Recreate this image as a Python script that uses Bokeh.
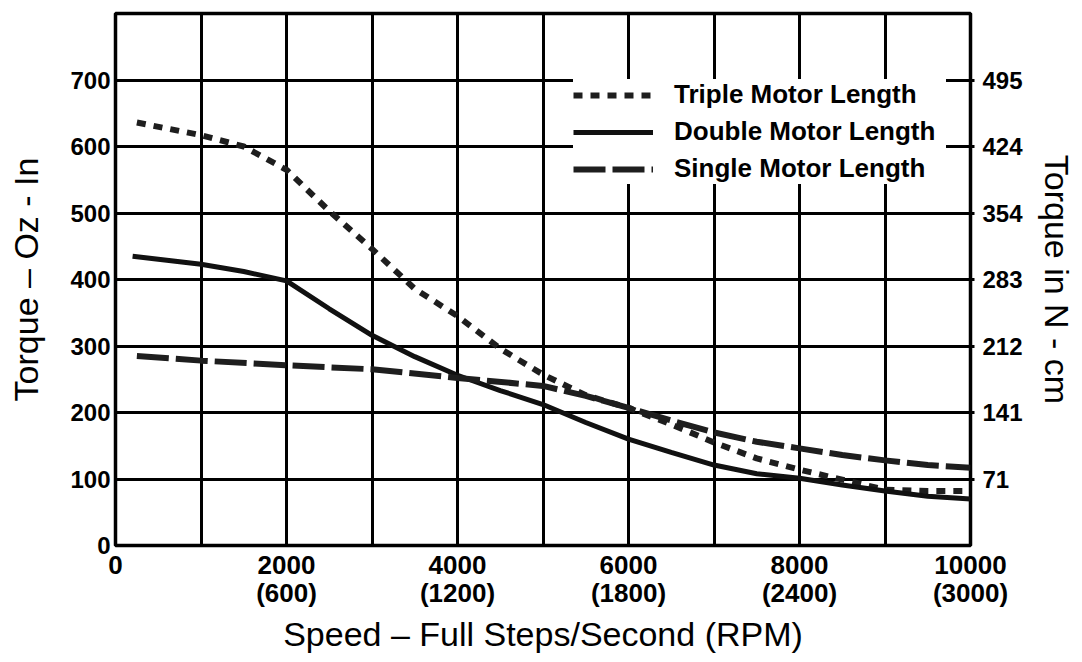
from bokeh.plotting import figure
from bokeh.models import Range1d, LinearAxis, FixedTicker, Legend, LegendItem
from bokeh.embed import file_html
from bokeh.resources import INLINE

# ---- data ----
speed_grid = list(range(0, 10001, 1000))
speed_labelled = [0, 2000, 4000, 6000, 8000, 10000]
rpm_labels = [None, 600, 1200, 1800, 2400, 3000]
torque_grid = list(range(0, 801, 100))
torque_labelled = [0, 100, 200, 300, 400, 500, 600, 700]
ncm_ticks = [100, 200, 300, 400, 500, 600, 700]
ncm_labels = ["71", "141", "212", "283", "354", "424", "495"]

triple_x = [250, 1000, 1500, 2000, 2500, 3000, 3500, 4000, 4500, 5000, 5500, 6000, 6500, 7000, 7500, 8000, 8500, 9000, 9500, 10000]
triple_y = [636, 617, 600, 565, 503, 446, 386, 345, 296, 257, 226, 207, 182, 155, 131, 114, 99, 84, 82, 82]

double_x = [200, 1000, 1500, 2000, 2500, 3000, 3500, 4000, 4500, 5000, 5500, 6000, 6500, 7000, 7500, 8000, 8500, 9000, 9500, 10000]
double_y = [435, 423, 412, 398, 356, 316, 284, 256, 233, 212, 185, 160, 140, 121, 108, 101, 91, 82, 74, 70]

single_x = [250, 1000, 2000, 3000, 4000, 5000, 5500, 6000, 6500, 7000, 7500, 8000, 8500, 9000, 9500, 10000]
single_y = [285, 278, 271, 265, 252, 240, 225, 207, 188, 170, 156, 146, 136, 128, 121, 117]

series_names = ["Triple Motor Length", "Double Motor Length", "Single Motor Length"]

FONT = "Liberation Sans"

p = figure(width=1082, height=662, x_range=Range1d(0, 10000), y_range=Range1d(0, 800),
           output_backend="svg", toolbar_location=None,
           min_border_left=115, min_border_right=112, min_border_top=13, min_border_bottom=117,
           background_fill_color="white", border_fill_color="white")

p.outline_line_color = "black"
p.outline_line_width = 3.5

# grid
p.xgrid.ticker = FixedTicker(ticks=speed_grid)
p.ygrid.ticker = FixedTicker(ticks=torque_grid)
for g in (p.xgrid, p.ygrid):
    g.grid_line_color = "black"
    g.grid_line_width = 3
    g.grid_line_alpha = 1

# bottom axis
xover = {}
for t in speed_grid:
    xover[t] = ""
for s, r in zip(speed_labelled, rpm_labels):
    xover[s] = str(s) if r is None else f"{s}\n({r})"
xa = p.xaxis[0]
xa.ticker = FixedTicker(ticks=speed_grid)
xa.major_label_overrides = xover
xa.axis_label = "Speed – Full Steps/Second (RPM)"

# left axis
yover = {t: "" for t in torque_grid}
for t in torque_labelled:
    yover[t] = str(t)
ya = p.yaxis[0]
ya.ticker = FixedTicker(ticks=torque_grid)
ya.major_label_overrides = yover
ya.axis_label = "Torque – Oz - In"

# right axis
ra = LinearAxis(ticker=FixedTicker(ticks=ncm_ticks),
                major_label_overrides={t: l for t, l in zip(ncm_ticks, ncm_labels)},
                axis_label="Torque in N - cm")
p.add_layout(ra, "right")

for ax in (xa, ya, ra):
    ax.axis_line_color = None
    ax.major_tick_line_color = None
    ax.minor_tick_line_color = None
    ax.major_tick_in = 0
    ax.major_tick_out = 0
    ax.minor_tick_in = 0
    ax.minor_tick_out = 0
    ax.major_label_text_font = FONT
    ax.major_label_text_font_style = "bold"
    ax.major_label_text_color = "black"
    ax.axis_label_text_font = FONT
    ax.axis_label_text_font_style = "normal"
    ax.axis_label_text_font_size = "34px"
    ax.axis_label_text_color = "black"

xa.major_label_text_font_size = "26px"
xa.major_label_text_line_height = 0.95
xa.major_label_standoff = 4
xa.axis_label_standoff = 4
ya.major_label_text_font_size = "24px"
ya.major_label_standoff = 5
ya.axis_label_standoff = 22
ra.major_label_text_font_size = "24px"
ra.major_label_standoff = 8
ra.axis_label_standoff = 12
ra.major_tick_out = 4
ra.major_tick_line_color = "black"
ra.major_tick_line_width = 3

# curves
r_t = p.line(triple_x, triple_y, line_color="#1e1e1e", line_width=6, line_dash="9 8")
r_d = p.line(double_x, double_y, line_color="#111111", line_width=5)
r_s = p.line(single_x, single_y, line_color="#1e1e1e", line_width=6, line_dash="32 7")

legend = Legend(items=[LegendItem(label=series_names[0], renderers=[r_t]),
                       LegendItem(label=series_names[1], renderers=[r_d]),
                       LegendItem(label=series_names[2], renderers=[r_s])],
                location=(458, 361), padding=12, spacing=6, margin=0,
                glyph_width=80, glyph_height=30, label_standoff=21, label_width=272,
                label_text_font=FONT, label_text_font_size="26px", label_text_font_style="bold",
                label_text_color="black",
                background_fill_color="white", background_fill_alpha=1.0,
                border_line_color=None)
p.add_layout(legend)

open("out.html", "w").write(file_html(p, INLINE))
